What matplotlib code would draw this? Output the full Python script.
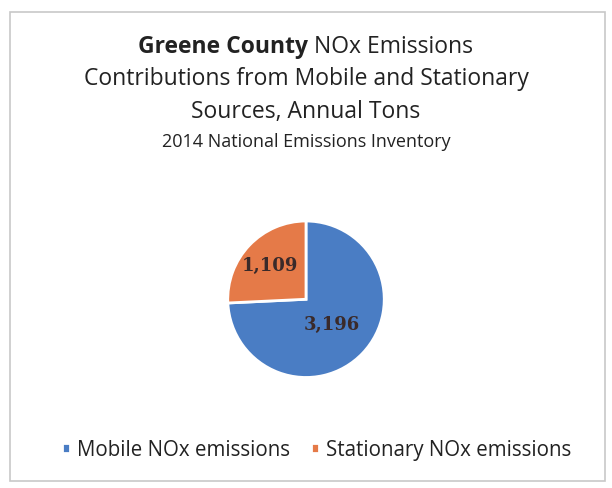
import numpy as np
import matplotlib.pyplot as plt
from matplotlib.patches import Rectangle

# Data
sources = ["Mobile NOx emissions", "Stationary NOx emissions"]
tons = [3196, 1109]
colors = ["#4a7dc4", "#e57a48"]
label_radius = [0.45, 0.63]

plt.rcParams['font.family'] = ['Open Sans', 'DejaVu Sans']

fig = plt.figure(figsize=(6.12, 4.89), dpi=100)
fig.patch.set_facecolor("white")

# chart frame
fig.add_artist(Rectangle((0.017, 0.015), 0.972, 0.958, transform=fig.transFigure,
                         fill=False, edgecolor="#c8c8c8", linewidth=1.2))

# Title: bold county name followed by regular text, centred as one line
tsize = 16.5
t1 = fig.text(0, 0.904, "Greene County", ha="left", va="center", fontsize=tsize,
              fontweight="bold", color="#222222")
t2 = fig.text(0, 0.904, " NOx Emissions", ha="left", va="center", fontsize=tsize,
              color="#222222")
fig.canvas.draw()
inv = fig.transFigure.inverted()
w1 = t1.get_window_extent().transformed(inv).width
w2 = t2.get_window_extent().transformed(inv).width
x0 = 0.5 - (w1 + w2) / 2
t1.set_x(x0)
t2.set_x(x0 + w1)
fig.text(0.5, 0.838, "Contributions from Mobile and Stationary", ha="center",
         va="center", fontsize=tsize, color="#222222")
fig.text(0.5, 0.771, "Sources, Annual Tons", ha="center", va="center",
         fontsize=tsize, color="#222222")
fig.text(0.5, 0.710, "2014 National Emissions Inventory", ha="center", va="center",
         fontsize=13, color="#222222")

# Pie
pw, ph = 0.32, 0.40
ax = fig.add_axes([0.5 - pw / 2, 0.386 - ph / 2, pw, ph])
wedges, _ = ax.pie(tons, colors=colors, startangle=90, counterclock=False,
                   wedgeprops=dict(edgecolor="white", linewidth=2))
ax.set_aspect("equal")
for w, v, r in zip(wedges, tons, label_radius):
    ang = np.deg2rad((w.theta1 + w.theta2) / 2)
    ax.text(r * np.cos(ang), r * np.sin(ang), f"{v:,}", ha="center", va="center",
            fontsize=13, fontweight="bold", family=["DejaVu Serif"], color="#3a2a2a")

# Legend
fig.legend(wedges, sources, loc="center", bbox_to_anchor=(0.517, 0.078), ncol=2,
           frameon=False, fontsize=14.8, handlelength=0.4, handleheight=0.4,
           handletextpad=0.35, columnspacing=1.0, labelcolor="#222222")

fig.savefig("out.png", dpi=100, facecolor="white")
